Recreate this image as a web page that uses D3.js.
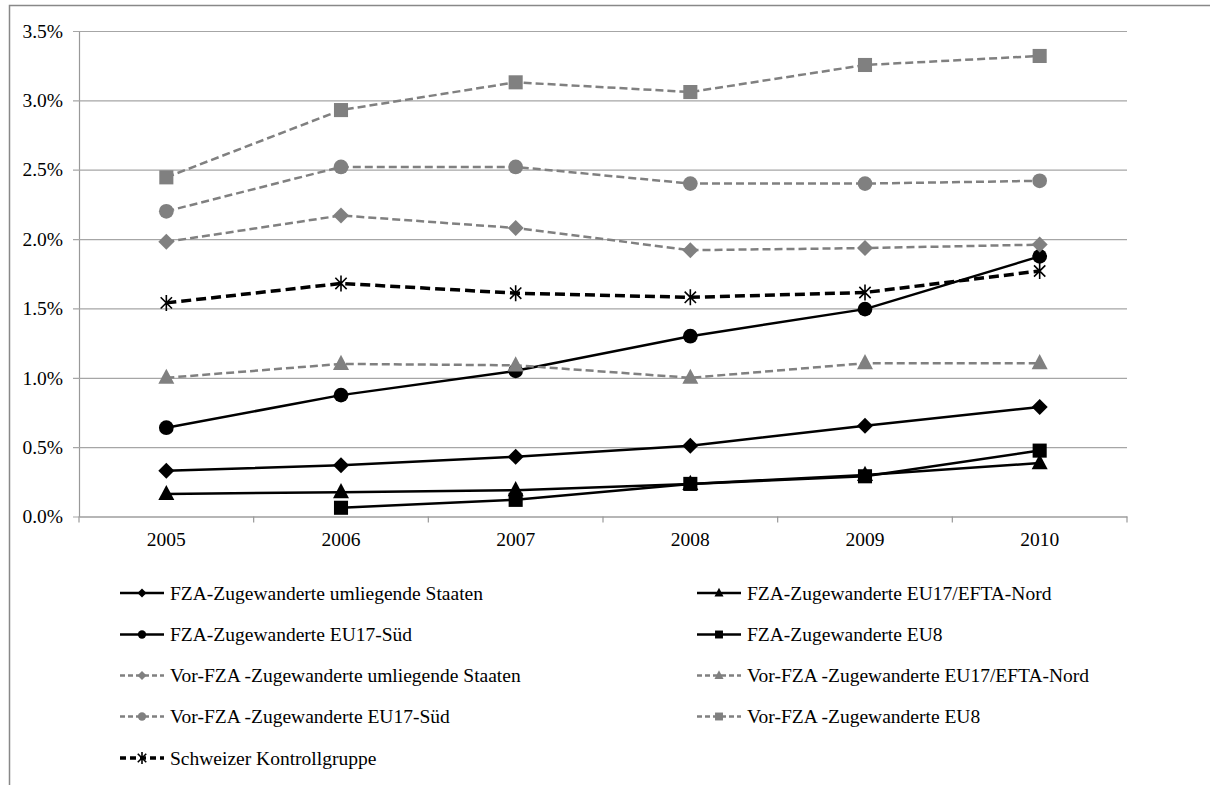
<!DOCTYPE html>
<html>
<head>
<meta charset="utf-8">
<script src="https://cdn.jsdelivr.net/npm/d3@7"></script>
<style>
  html, body { margin: 0; padding: 0; background: #fff; }
  svg { display: block; }
  text { font-family: "Liberation Serif", "Times New Roman", serif; fill: #000; }
</style>
</head>
<body>
<svg id="chart" width="1210" height="785"></svg>
<script>
// ---- Data ----
const years = ["2005", "2006", "2007", "2008", "2009", "2010"];
const yTicks = [0, 0.5, 1.0, 1.5, 2.0, 2.5, 3.0, 3.5];

const fzaUmliegende = [0.33, 0.37, 0.43, 0.51, 0.655, 0.79];
const fzaNord       = [0.162, 0.175, 0.19, 0.235, 0.30, 0.385];
const fzaSued       = [0.64, 0.875, 1.05, 1.30, 1.495, 1.875];
const fzaEU8        = [null, 0.063, 0.12, 0.235, 0.29, 0.475];
const vorUmliegende = [1.98, 2.17, 2.08, 1.92, 1.935, 1.96];
const vorNord       = [1.00, 1.10, 1.09, 1.00, 1.105, 1.105];
const vorSued       = [2.20, 2.52, 2.52, 2.40, 2.40, 2.42];
const vorEU8        = [2.445, 2.93, 3.13, 3.06, 3.255, 3.32];
const schweizer     = [1.54, 1.68, 1.61, 1.58, 1.615, 1.77];

const seriesNames = [
  "FZA-Zugewanderte umliegende Staaten",
  "FZA-Zugewanderte EU17/EFTA-Nord",
  "FZA-Zugewanderte EU17-Süd",
  "FZA-Zugewanderte EU8",
  "Vor-FZA -Zugewanderte umliegende Staaten",
  "Vor-FZA -Zugewanderte EU17/EFTA-Nord",
  "Vor-FZA -Zugewanderte EU17-Süd",
  "Vor-FZA -Zugewanderte EU8",
  "Schweizer Kontrollgruppe"
];
const seriesValues = [fzaUmliegende, fzaNord, fzaSued, fzaEU8, vorUmliegende, vorNord, vorSued, vorEU8, schweizer];

// ---- Styles ----
const BLACK = "#000000", GRAY = "#808080";
const styles = [
  {color: BLACK, dash: null,  width: 2.5, marker: "diamond"},
  {color: BLACK, dash: null,  width: 2.5, marker: "triangle"},
  {color: BLACK, dash: null,  width: 2.5, marker: "circle"},
  {color: BLACK, dash: null,  width: 2.5, marker: "square"},
  {color: GRAY,  dash: "8,4", width: 2.5, marker: "diamond"},
  {color: GRAY,  dash: "8,4", width: 2.5, marker: "triangle"},
  {color: GRAY,  dash: "8,4", width: 2.5, marker: "circle"},
  {color: GRAY,  dash: "8,4", width: 2.5, marker: "square"},
  {color: BLACK, dash: "10,5", width: 3.5, marker: "star"}
];

const series = seriesNames.map((name, i) => ({
  name, style: styles[i],
  points: years.map((yr, j) => ({year: yr, value: seriesValues[i][j]}))
}));

// ---- Layout ----
const svg = d3.select("#chart");
const FONT = 19.5;
const plot = {left: 79, right: 1127, top: 31, bottom: 516.5};

// outer frame (top & left visible)
svg.append("path")
  .attr("d", `M9.5,785 L9.5,5.5 L1210,5.5`)
  .attr("fill", "none").attr("stroke", "#888").attr("stroke-width", 1.5);

const x = d3.scaleBand().domain(years).range([plot.left, plot.right]).padding(0);
const y = d3.scaleLinear().domain([0, 3.5]).range([plot.bottom, plot.top]);

// gridlines + y axis
const yAxis = d3.axisLeft(y).tickValues(yTicks)
  .tickFormat(d => d3.format(".1f")(d) + "%")
  .tickSize(-(plot.right - plot.left)).tickSizeOuter(0).tickPadding(16);
const gy = svg.append("g").attr("transform", `translate(${plot.left},0)`).call(yAxis);
gy.select(".domain").attr("stroke", "#999").attr("stroke-width", 1.2);
gy.selectAll(".tick line").attr("stroke", "#a6a6a6").attr("stroke-width", 1.2).attr("x1", -6);
gy.selectAll(".tick text").attr("font-size", FONT).attr("font-family", "Liberation Serif").attr("fill", "#000").attr("x", -16);

// x axis
const xAxis = d3.axisBottom(x).tickSize(0).tickSizeOuter(0).tickPadding(16);
const gx = svg.append("g").attr("transform", `translate(0,${plot.bottom})`).call(xAxis);
gx.select(".domain").attr("stroke", "#999").attr("stroke-width", 1.2);
gx.selectAll(".tick text").attr("font-size", FONT).attr("font-family", "Liberation Serif").attr("fill", "#000");
// category boundary ticks
const bounds = years.map(yr => x(yr)).concat([x(years[years.length - 1]) + x.bandwidth()]);
gx.selectAll(".bt").data(bounds).enter().append("line")
  .attr("x1", d => d).attr("x2", d => d).attr("y1", 0).attr("y2", 6)
  .attr("stroke", "#999").attr("stroke-width", 1.2);

// ---- Markers ----
function drawMarker(g, type, cx, cy, size, color) {
  const h = size / 2;
  if (type === "diamond") {
    g.append("path").attr("d", `M${cx},${cy - h} L${cx + h},${cy} L${cx},${cy + h} L${cx - h},${cy} Z`).attr("fill", color);
  } else if (type === "square") {
    const s = size * 0.88;
    g.append("rect").attr("x", cx - s / 2).attr("y", cy - s / 2).attr("width", s).attr("height", s).attr("fill", color);
  } else if (type === "circle") {
    g.append("circle").attr("cx", cx).attr("cy", cy).attr("r", size * 0.46).attr("fill", color);
  } else if (type === "triangle") {
    const w = size, ht = size * 0.95;
    g.append("path").attr("d", `M${cx},${cy - ht * 0.6} L${cx + w / 2},${cy + ht * 0.4} L${cx - w / 2},${cy + ht * 0.4} Z`).attr("fill", color);
  } else if (type === "star") {
    const r = h;
    const d = r * Math.cos(Math.PI / 4);
    g.append("path")
      .attr("d", `M${cx},${cy - r} L${cx},${cy + r} M${cx - d},${cy - d} L${cx + d},${cy + d} M${cx - d},${cy + d} L${cx + d},${cy - d}`)
      .attr("stroke", color).attr("stroke-width", 1.6).attr("fill", "none");
  }
}

// ---- Lines ----
const line = d3.line()
  .defined(d => d.value !== null)
  .x(d => x(d.year) + x.bandwidth() / 2)
  .y(d => y(d.value));

series.forEach(s => {
  const g = svg.append("g");
  g.append("path").datum(s.points)
    .attr("d", line)
    .attr("fill", "none")
    .attr("stroke", s.style.color)
    .attr("stroke-width", s.style.width)
    .attr("stroke-dasharray", s.style.dash)
    .attr("stroke-linejoin", "round");
  s.points.filter(p => p.value !== null).forEach(p => {
    drawMarker(g, s.style.marker, x(p.year) + x.bandwidth() / 2, y(p.value), 16, s.style.color);
  });
});

// ---- Legend ----
const legendCols = [120, 697];
const legendRows = [593, 634.5, 675.5, 716.5, 758];
series.forEach((s, i) => {
  const col = i % 2, row = Math.floor(i / 2);
  const lx = legendCols[col], ly = legendRows[row];
  const g = svg.append("g");
  g.append("line").attr("x1", lx).attr("x2", lx + 44).attr("y1", ly).attr("y2", ly)
    .attr("stroke", s.style.color).attr("stroke-width", s.style.width)
    .attr("stroke-dasharray", s.style.dash ? (s.style.marker === "star" ? "6,4" : "5,3") : null);
  drawMarker(g, s.style.marker, lx + 22, ly, s.style.marker === "star" ? 12 : 9, s.style.color);
  g.append("text").attr("x", lx + 50).attr("y", ly).attr("dy", "0.35em")
    .attr("font-size", FONT).text(s.name);
});
</script>
</body>
</html>
